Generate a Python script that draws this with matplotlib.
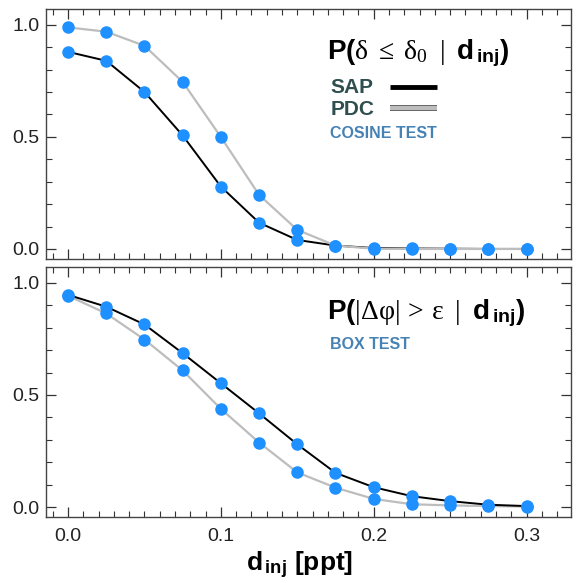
import matplotlib
matplotlib.use('Agg')
import matplotlib.pyplot as plt
import matplotlib.patheffects as pe
from matplotlib.ticker import MultipleLocator

plt.rcParams['font.family'] = ['Liberation Sans', 'DejaVu Sans']
plt.rcParams['mathtext.fontset'] = 'custom'
plt.rcParams['mathtext.rm'] = 'Liberation Serif'
plt.rcParams['mathtext.it'] = 'Liberation Serif'
plt.rcParams['mathtext.bf'] = 'Liberation Sans:bold'
plt.rcParams['mathtext.sf'] = 'Liberation Sans'

# injected distance (ppt)
d_inj = [0.0, 0.025, 0.05, 0.075, 0.1, 0.125, 0.15, 0.175, 0.2, 0.225, 0.25, 0.275, 0.3]

# cosine test: P(delta <= delta0 | d_inj)
cos_sap = [0.879, 0.839, 0.70, 0.506, 0.278, 0.117, 0.04, 0.015, 0.004, 0.002, 0.001, 0.0, 0.0]
cos_pdc = [0.988, 0.969, 0.906, 0.745, 0.499, 0.241, 0.085, 0.015, 0.001, 0.0, 0.0, 0.0, 0.0]

# box test: P(|dphi| > eps | d_inj)
box_sap = [0.946, 0.893, 0.814, 0.686, 0.552, 0.418, 0.28, 0.153, 0.089, 0.049, 0.027, 0.011, 0.005]
box_pdc = [0.942, 0.863, 0.747, 0.609, 0.438, 0.288, 0.155, 0.087, 0.037, 0.013, 0.008, 0.005, 0.003]

blue = '#1e90ff'
gray = '#bdbdbd'

fig = plt.figure(figsize=(5.76, 5.83), dpi=100)
ax1 = fig.add_axes([0.080, 0.5557, 0.911, 0.4288])
ax2 = fig.add_axes([0.080, 0.1127, 0.911, 0.4293])


def style(ax):
    ax.set_xlim(-0.0144, 0.329)
    ax.set_ylim(-0.045, 1.07)
    ax.xaxis.set_major_locator(MultipleLocator(0.1))
    ax.xaxis.set_minor_locator(MultipleLocator(0.01))
    ax.yaxis.set_major_locator(MultipleLocator(0.5))
    ax.yaxis.set_minor_locator(MultipleLocator(0.1))
    ax.tick_params(which='both', direction='in', top=True, right=True,
                   color='#333333', labelsize=14, labelcolor='#222222')
    ax.tick_params(which='major', length=7, width=0.9)
    ax.tick_params(which='minor', length=4, width=0.8)
    ax.tick_params(axis='x', pad=8)
    ax.tick_params(axis='y', pad=5)
    for s in ax.spines.values():
        s.set_color('#444444')
        s.set_linewidth(1.0)
    ax.yaxis.set_major_formatter(plt.FormatStrFormatter('%.1f'))
    ax.xaxis.set_major_formatter(plt.FormatStrFormatter('%.1f'))


# top panel
ax1.plot(d_inj, cos_sap, color='black', lw=1.4, zorder=2)
ax1.plot(d_inj, cos_pdc, color=gray, lw=1.6, zorder=3)
ax1.plot(d_inj, cos_sap, 'o', color=blue, ms=8, mec=blue, zorder=4)
ax1.plot(d_inj, cos_pdc, 'o', color=blue, ms=8, mec=blue, zorder=4)
style(ax1)
ax1.tick_params(axis='x', labelbottom=False)

ax1.text(0.535, 0.825,
         r'$\mathbf{P(}\delta\;\leq\;\delta_{0}\;\;|\;\;\mathbf{d}_{\mathbf{\,inj}}\mathbf{)}$',
         transform=ax1.transAxes, fontsize=20, va='center', ha='left')
ax1.text(0.542, 0.688, 'SAP', transform=ax1.transAxes, fontsize=15,
         fontweight='bold', color='#2f4f4f', va='center')
ax1.text(0.542, 0.598, 'PDC', transform=ax1.transAxes, fontsize=15,
         fontweight='bold', color='#2f4f4f', va='center')
ax1.text(0.542, 0.502, 'COSINE TEST', transform=ax1.transAxes, fontsize=11.5,
         fontweight='bold', color='#4682b4', va='center')
ax1.plot([0.656, 0.745], [0.69, 0.69], transform=ax1.transAxes,
         color='black', lw=3.5, solid_capstyle='butt')
ax1.plot([0.656, 0.745], [0.603, 0.603], transform=ax1.transAxes,
         color=gray, lw=3, solid_capstyle='butt',
         path_effects=[pe.Stroke(linewidth=4.2, foreground='#555555'), pe.Normal()])

# bottom panel
ax2.plot(d_inj, box_pdc, color=gray, lw=1.6, zorder=2)
ax2.plot(d_inj, box_sap, color='black', lw=1.4, zorder=3)
ax2.plot(d_inj, box_sap, 'o', color=blue, ms=8, mec=blue, zorder=4)
ax2.plot(d_inj, box_pdc, 'o', color=blue, ms=8, mec=blue, zorder=4)
style(ax2)

ax2.text(0.535, 0.815,
         r'$\mathbf{P(}|\Delta\varphi|\,>\,\varepsilon\;\;|\;\;\mathbf{d}_{\mathbf{\,inj}}\mathbf{)}$',
         transform=ax2.transAxes, fontsize=20, va='center', ha='left')
ax2.text(0.542, 0.692, 'BOX TEST', transform=ax2.transAxes, fontsize=11.5,
         fontweight='bold', color='#4682b4', va='center')

fig.text(0.52, 0.03, r'$\mathbf{d}_{\mathbf{\,inj}}$ [ppt]', fontsize=19, fontweight='bold',
         ha='center', va='center')

fig.savefig('out.png', dpi=100)
